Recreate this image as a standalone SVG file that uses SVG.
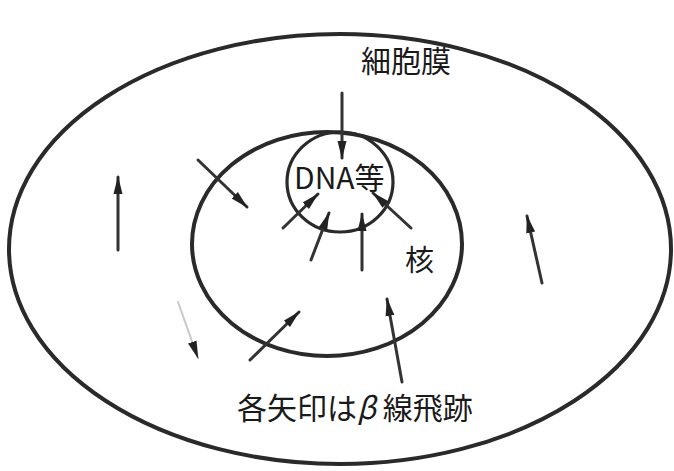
<svg xmlns="http://www.w3.org/2000/svg" width="674" height="471" viewBox="0 0 674 471">
  <style>
    .membrane { fill: none; stroke: #2a2a2a; stroke-width: 4; }
    .nucleus { fill: none; stroke: #2a2a2a; stroke-width: 4; }
    .dna { fill: none; stroke: #2a2a2a; stroke-width: 3.2; }
    .track { stroke: #333; stroke-width: 3; fill: none; stroke-linecap: round; marker-end: url(#tip); }
    .faint { stroke: #c8c8c8; stroke-width: 2; }
    .label { font-family: "Noto Sans CJK JP", "Noto Sans", sans-serif; fill: #1a1a1a; }
  </style>
  <defs>
    <marker id="tip" viewBox="0 0 18 11" refX="17" refY="5.5" markerWidth="18" markerHeight="11" orient="auto" markerUnits="userSpaceOnUse">
      <path d="M0,1 L18,5.5 L0,10 Z" fill="#222"/>
    </marker>
  </defs>

  <rect width="674" height="471" fill="#fff"/>

  <!-- cell membrane -->
  <g id="cell-membrane">
    <ellipse class="membrane" cx="340" cy="249" rx="331" ry="215"/>
    <text class="label" x="361" y="72" font-size="30">細胞膜</text>
  </g>

  <!-- nucleus -->
  <g id="nucleus">
    <ellipse class="nucleus" cx="327" cy="244" rx="135" ry="112"/>
    <text class="label" x="405" y="271" font-size="29">核</text>
  </g>

  <!-- DNA region -->
  <g id="dna">
    <ellipse class="dna" cx="340" cy="182" rx="53" ry="50"/>
    <text class="label" x="294" y="189" font-size="30">DNA等</text>
  </g>

  <!-- beta-ray tracks -->
  <g id="tracks">
    <line class="track" x1="342" y1="93" x2="342" y2="158"/>
    <line class="track" x1="198" y1="160" x2="247" y2="207"/>
    <line class="track" x1="283" y1="228" x2="318" y2="194"/>
    <line class="track" x1="311" y1="260" x2="329" y2="213"/>
    <line class="track" x1="362" y1="270" x2="362" y2="214"/>
    <line class="track" x1="411" y1="228" x2="373" y2="193"/>
    <line class="track" x1="118" y1="250" x2="118" y2="177"/>
    <line class="track" x1="542" y1="283" x2="527" y2="216"/>
    <line class="track" x1="250" y1="360" x2="299" y2="312"/>
    <line class="track" x1="402" y1="382" x2="387" y2="299"/>
    <line class="track faint" x1="178" y1="302" x2="198" y2="358"/>
  </g>

  <!-- caption -->
  <g id="caption">
    <text class="label" x="237" y="419" font-size="30">各矢印は<tspan font-style="italic">β</tspan> 線飛跡</text>
  </g>
</svg>
